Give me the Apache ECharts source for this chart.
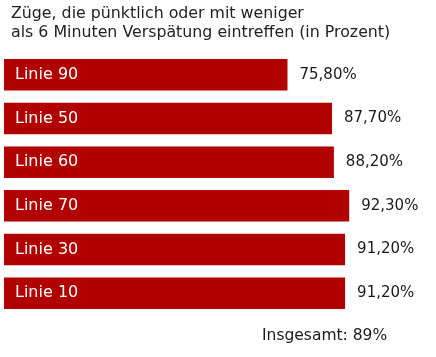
<!DOCTYPE html>
<html>
<head>
<meta charset="utf-8">
<script src="https://cdn.jsdelivr.net/npm/echarts@6/dist/echarts.min.js"></script>
<style>html,body{margin:0;padding:0;background:#fff;}#c{width:436px;height:357px;}</style>
</head>
<body>
<div id="c"></div>
<script>
var titleLines = ['Züge, die pünktlich oder mit weniger', 'als 6 Minuten Verspätung eintreffen (in Prozent)'];
var categories = ['Linie 90', 'Linie 50', 'Linie 60', 'Linie 70', 'Linie 30', 'Linie 10'];
var values = [75.8, 87.7, 88.2, 92.3, 91.2, 91.2];
var totalText = 'Insgesamt: 89%';

var FONT = '"DejaVu Sans", sans-serif';
var chart = echarts.init(document.getElementById('c'), null, {renderer: 'canvas'});
chart.setOption({
  animation: false,
  backgroundColor: '#ffffff',
  title: {
    text: titleLines.join('\n'),
    left: 6, top: -1,
    textStyle: {fontFamily: FONT, fontSize: 15.8, fontWeight: 'normal', color: '#222222', lineHeight: 19}
  },
  grid: {left: 4, top: 53, width: 374, height: 262, containLabel: false},
  xAxis: {type: 'value', min: 0, max: 100, show: false},
  yAxis: {
    type: 'category', inverse: true, data: categories, z: 10,
    axisLine: {show: false}, axisTick: {show: false}, splitLine: {show: false},
    axisLabel: {inside: true, margin: 11, color: '#ffffff', fontFamily: FONT, fontSize: 16, fontWeight: 'normal'}
  },
  series: [{
    type: 'bar',
    data: values,
    barWidth: 31.5,
    itemStyle: {color: '#b00000'},
    label: {
      show: true, position: 'right', distance: 12,
      color: '#1a1a1a', fontFamily: FONT, fontSize: 15, fontWeight: 'normal',
      formatter: function (p) { return p.value.toFixed(2).replace('.', ',') + '%'; }
    }
  }],
  graphic: [{
    type: 'text', left: 262, top: 328,
    style: {text: totalText, fill: '#1a1a1a', font: 'normal 15.5px ' + FONT}
  }]
});
</script>
</body>
</html>
